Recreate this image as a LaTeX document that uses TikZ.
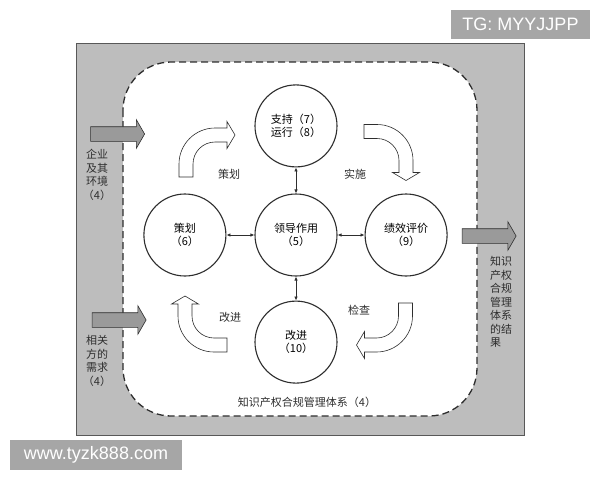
\documentclass[tikz,border=0pt]{standalone}
\usepackage{fontspec}
\setmainfont{Noto Sans CJK SC}
\newfontfamily\markfont{Liberation Sans}
\usepackage{tikz}
\usetikzlibrary{
	positioning,
	arrows.meta,
	shapes.arrows
}
\definecolor{panelgray}{HTML}{BDBDBD}
\definecolor{flowgray}{HTML}{9A9A9A}
\definecolor{markgray}{HTML}{A6A6A6}
\definecolor{inkgray}{HTML}{2E2E2E}

\tikzset{
	clause/.style={circle,draw=inkgray,line width=1.1pt,minimum size=82pt,inner sep=0pt,
		align=center,font=\fontsize{11pt}{13pt}\selectfont},
	link/.style={{Latex[length=4pt,width=3.5pt]}-{Latex[length=4pt,width=3.5pt]},line width=.8pt,draw=inkgray},
	flow/.style={single arrow,draw=inkgray,fill=flowgray,line width=.6pt,inner xsep=0pt,inner ysep=7pt,
		minimum height=54pt,minimum width=28pt,single arrow head extend=7pt,single arrow tip angle=120},
	sidetext/.style={align=center,inner sep=0pt,text=inkgray,font=\fontsize{11pt}{13.5pt}\selectfont},
	steptext/.style={inner sep=0pt,text=inkgray,font=\fontsize{11pt}{13pt}\selectfont},
	boundary/.style={draw=inkgray,fill=white,line width=1.3pt,dash pattern=on 7pt off 4pt,rounded corners=48pt},
	hollow/.style={draw=inkgray,fill=white,line width=.6pt},
	markbox/.style={fill=markgray,text=white,inner sep=0pt,font=\markfont\fontsize{18pt}{20pt}\selectfont},
	turnarrow/.pic={
		\draw[hollow] (-7,0) -- (-7,13) arc[start angle=180,end angle=90,radius=36]
			-- (41,49) -- (41,55.5) -- (49,42) -- (41,28.5) -- (41,35) -- (29,35)
			arc[start angle=90,end angle=180,radius=22] -- (7,0) -- cycle;
	}
}

\begin{document}
\begin{tikzpicture}[x=1pt,y=1pt]
	\useasboundingbox (0,0) rectangle (600,-480);

	% panel and system boundary
	\draw[fill=panelgray,draw=inkgray!80,line width=.8pt] (76,-43) rectangle (524,-435);
	\draw[boundary] (123,-62) rectangle (477,-416);

	% inputs and output
	\node[flow] (envin)   at (115.5,-134) {};
	\node[flow] (partyin) at (117,-320) {};
	\node[flow] (result)  at (487,-236) {};
	\node[sidetext] (envtext)   at (97,-175)  {企业\\及其\\环境\\（4）};
	\node[sidetext] (partytext) at (97,-361)  {相关\\方的\\需求\\（4）};
	\node[sidetext,align=left] (resulttext) at (501,-302) {知识\\产权\\合规\\管理\\体系\\的结\\果};

	% PDCA turns
	\pic at (186,-177)   {turnarrow};
	\pic[rotate=-90] at (364,-131.5) {turnarrow};
	\pic[rotate=180] at (405.5,-303) {turnarrow};
	\pic[rotate=90]  at (227,-345)   {turnarrow};
	\node[steptext] (plantext)    at (229,-174) {策划};
	\node[steptext] (dotext)      at (355,-174) {实施};
	\node[steptext] (checktext)   at (359,-310) {检查};
	\node[steptext] (improvetext) at (230,-317) {改进};

	\draw
		node [clause] (lead) at (296,-235)   {领导作用\\（5）}
		node [clause,left=28pt of lead]  (plan)    {策划\\（6）}
		node [clause,above=26pt of lead] (support) {支持（7）\\运行（8）}
		node [clause,right=27pt of lead] (perf)    {绩效评价\\（9）}
		node [clause,below=24pt of lead] (improve) {改进\\（10）}

		(lead) edge[link] (support)
		(lead) edge[link] (plan)
		(lead) edge[link] (perf)
		(lead) edge[link] (improve)
	;

	\node[steptext] (scopetext) at (307,-402) {知识产权合规管理体系（4）};

	% watermarks
	\node[markbox,minimum width=139pt,minimum height=29pt] (tg)   at (520.5,-24.5) {TG: MYYJJPP};
	\node[markbox,minimum width=172pt,minimum height=30pt] (site) at (96,-455)     {www.tyzk888.com};
\end{tikzpicture}
\end{document}
